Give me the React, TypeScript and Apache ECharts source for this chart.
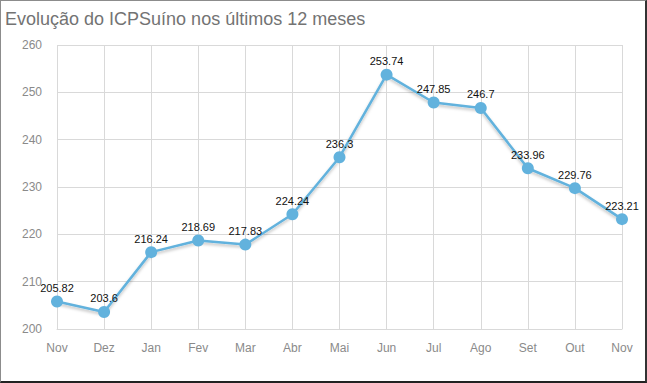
import React, { useEffect, useRef } from "react";
import * as echarts from "echarts";

const months = ["Nov", "Dez", "Jan", "Fev", "Mar", "Abr", "Mai", "Jun", "Jul", "Ago", "Set", "Out", "Nov"];
const values = [205.82, 203.6, 216.24, 218.69, 217.83, 224.24, 236.3, 253.74, 247.85, 246.7, 233.96, 229.76, 223.21];
const title = "Evolução do ICPSuíno nos últimos 12 meses";

export default function App() {
  const ref = useRef<HTMLDivElement>(null);
  useEffect(() => {
    document.body.style.margin = "0";
    const chart = echarts.init(ref.current!, null, { renderer: "svg" });
    chart.setOption({
      animation: false,
      backgroundColor: "#fff",
      title: {
        text: title,
        left: 0,
        top: 5,
        textStyle: { fontFamily: "Liberation Sans, Arial", fontSize: 18, fontWeight: "normal", color: "#737373" },
      },
      grid: { left: 57, right: 25, top: 45, bottom: 54 },
      xAxis: {
        type: "category",
        data: months,
        boundaryGap: false,
        axisLine: { show: true, lineStyle: { color: "#d9d9d9" } },
        axisTick: { show: false },
        axisLabel: { color: "#8a8a8a", fontSize: 12, fontFamily: "Liberation Sans, Arial", margin: 13 },
        splitLine: { show: true, lineStyle: { color: "#d9d9d9" } },
      },
      yAxis: {
        type: "value",
        min: 200,
        max: 260,
        interval: 10,
        axisLine: { show: false },
        axisTick: { show: false },
        axisLabel: { color: "#8a8a8a", fontSize: 12, fontFamily: "Liberation Sans, Arial", margin: 15 },
        splitLine: { show: true, lineStyle: { color: "#d9d9d9" } },
      },
      series: [
        {
          type: "line",
          data: values,
          symbol: "circle",
          symbolSize: 12,
          itemStyle: { color: "#62b2dd" },
          lineStyle: {
            color: "#62b2dd",
            width: 2.5,
            shadowColor: "rgba(0,0,0,0.25)",
            shadowBlur: 3,
            shadowOffsetY: 2,
          },
          label: {
            show: true,
            position: "top",
            distance: 2,
            color: "#111",
            fontSize: 11,
            fontFamily: "Liberation Sans, Arial",
          },
        },
      ],
    });
    return () => chart.dispose();
  }, []);
  return (
    <div style={{ position: "fixed", left: 0, top: 0, width: 647, height: 383 }}>
      <div ref={ref} style={{ position: "absolute", left: 0, top: 0, width: 647, height: 383 }} />
      <div
        style={{
          position: "absolute",
          left: 0,
          top: 0,
          width: 647,
          height: 383,
          boxSizing: "border-box",
          borderLeft: "1px solid #8c8c8c",
          borderTop: "1px solid #8c8c8c",
          borderRight: "2px solid #333",
          borderBottom: "2px solid #222",
          pointerEvents: "none",
        }}
      />
    </div>
  );
}
